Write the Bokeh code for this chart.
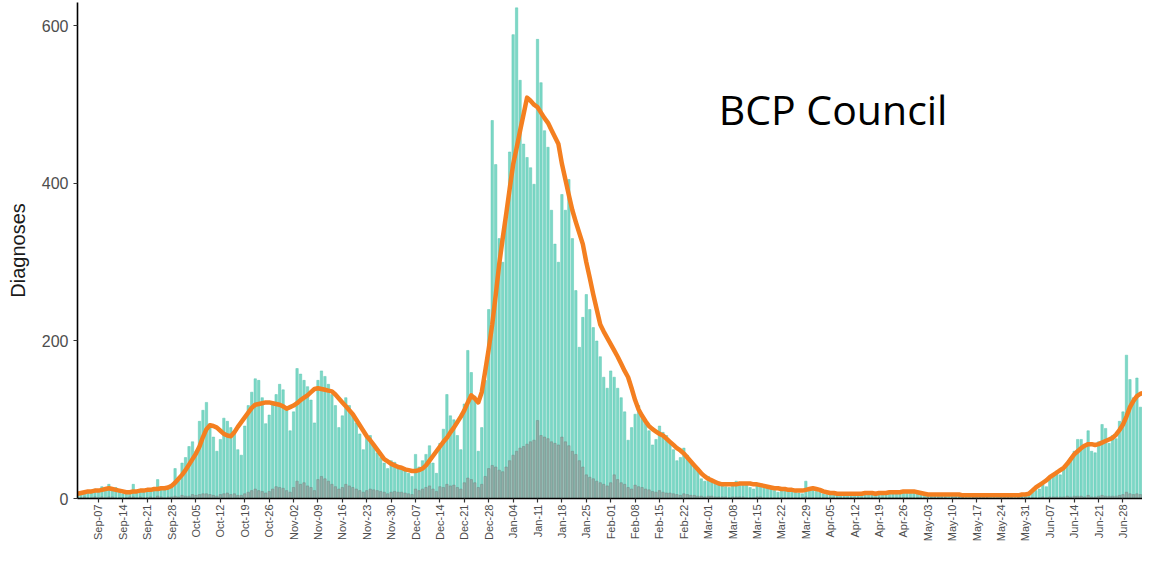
import math
import pandas as pd
from bokeh.plotting import figure
from bokeh.models import (Range1d, FixedTicker, DatetimeTickFormatter, Label,
                          ColumnDataSource)
from bokeh.embed import file_html
from bokeh.resources import INLINE

# ---------------- data ----------------
first_day = "2020-09-01"

# daily diagnoses (total bar height)
diagnoses = [
    4, 6, 9, 8, 7, 12, 9,
    15, 11, 18, 12, 14, 8, 6,
    7, 9, 18, 8, 10, 9, 11,
    12, 10, 24, 14, 11, 13, 18,
    38, 22, 45, 52, 66, 72, 60,
    98, 112, 122, 95, 78, 60, 75,
    102, 98, 90, 82, 62, 55, 92,
    118, 135, 152, 150, 128, 95, 106,
    120, 132, 145, 138, 112, 86, 110,
    165, 158, 150, 142, 125, 96, 150,
    162, 155, 145, 132, 118, 90, 105,
    128, 118, 108, 96, 82, 62, 78,
    80, 68, 58, 52, 45, 38, 48,
    46, 42, 38, 35, 32, 28, 56,
    40, 48, 56, 67, 45, 32, 70,
    88, 132, 105, 100, 80, 62, 120,
    188, 160, 130, 60, 90, 150, 240,
    480, 424, 330, 300, 360, 440, 589,
    623, 531, 450, 433, 420, 399, 583,
    528, 467, 446, 366, 323, 300, 386,
    366, 405, 330, 264, 192, 230, 259,
    240, 217, 200, 180, 154, 140, 162,
    154, 140, 128, 110, 74, 90, 107,
    118, 104, 95, 86, 68, 75, 92,
    84, 80, 70, 62, 48, 52, 64,
    55, 46, 42, 35, 25, 22, 28,
    24, 21, 19, 17, 15, 14, 19,
    22, 20, 18, 17, 14, 12, 16,
    16, 15, 14, 12, 10, 8, 12,
    12, 10, 9, 8, 7, 6, 22,
    12, 10, 9, 8, 6, 5, 6,
    7, 6, 5, 5, 4, 5, 6,
    6, 7, 6, 5, 5, 6, 7,
    8, 7, 8, 6, 6, 7, 9,
    10, 9, 8, 6, 5, 4, 5,
    6, 5, 4, 5, 4, 3, 5,
    5, 4, 4, 3, 3, 4, 5,
    4, 5, 4, 3, 3, 3, 4,
    5, 4, 4, 3, 4, 5, 6,
    6, 8, 10, 12, 20, 15, 26,
    31, 35, 30, 37, 45, 52, 60,
    75, 75, 68, 86, 60, 58, 72,
    94, 89, 70, 80, 76, 98, 110,
    182, 151, 128, 153, 116, 100, 94,
    120, 166,
]

# grey lower part of each bar
grey_part = [
    1, 1, 2, 1, 1, 2, 1,
    2, 1, 2, 2, 1, 1, 1,
    1, 2, 2, 1, 2, 1, 1,
    2, 1, 3, 2, 1, 2, 2,
    3, 2, 4, 3, 3, 5, 4,
    5, 6, 6, 5, 4, 3, 5,
    6, 7, 5, 6, 4, 4, 6,
    8, 10, 12, 10, 9, 7, 9,
    12, 15, 14, 13, 10, 8, 14,
    22, 18, 20, 16, 14, 10, 24,
    28, 25, 22, 18, 15, 12, 14,
    18, 16, 14, 12, 10, 8, 10,
    12, 11, 10, 9, 8, 6, 8,
    9, 8, 8, 7, 6, 5, 12,
    10, 12, 14, 16, 12, 9, 15,
    14, 18, 16, 17, 14, 12, 20,
    26, 24, 20, 14, 18, 28, 38,
    42, 40, 36, 34, 40, 48, 55,
    60, 64, 66, 69, 72, 74, 99,
    80, 78, 76, 72, 70, 68, 78,
    72, 67, 60, 56, 48, 40, 30,
    27, 25, 22, 20, 18, 16, 20,
    30, 24, 20, 18, 14, 12, 17,
    15, 14, 12, 11, 9, 8, 10,
    8, 7, 7, 6, 5, 4, 6,
    5, 4, 4, 3, 3, 2, 3,
    3, 2, 2, 2, 2, 1, 2,
    2, 2, 2, 1, 1, 1, 2,
    2, 1, 1, 1, 1, 1, 1,
    1, 1, 1, 1, 1, 1, 2,
    1, 1, 1, 1, 1, 1, 1,
    1, 1, 1, 1, 1, 1, 1,
    1, 1, 1, 1, 1, 1, 1,
    1, 1, 1, 1, 1, 1, 1,
    1, 1, 1, 1, 1, 1, 1,
    1, 1, 1, 1, 1, 0, 1,
    1, 1, 1, 0, 0, 1, 1,
    1, 1, 1, 0, 0, 0, 1,
    1, 1, 1, 0, 1, 1, 1,
    1, 1, 1, 1, 2, 1, 2,
    2, 2, 2, 2, 3, 2, 3,
    3, 3, 2, 4, 2, 2, 3,
    4, 3, 3, 3, 3, 4, 5,
    8, 6, 5, 6, 5, 4, 4,
    5, 6,
]

# 7-day average (orange line)
avg_7day = [
    6, 7, 8, 9, 9, 10, 10,
    11, 12, 13, 12, 11, 10, 9,
    8, 8, 9, 9, 10, 10, 11,
    11, 12, 12, 13, 13, 14, 16,
    20, 25, 30, 36, 43, 50, 57,
    66, 78, 88, 93, 92, 90, 86,
    82, 80, 79, 84, 91, 97, 103,
    109, 115, 119, 120, 121, 122, 122,
    121, 120, 119, 117, 114, 116, 118,
    121, 125, 128, 131, 135, 139, 140,
    139, 138, 137, 136, 132, 127, 122,
    117, 112, 107, 100, 93, 86, 79,
    74, 68, 62, 56, 50, 47, 44,
    42, 40, 39, 37, 36, 35, 35,
    36, 38, 42, 48, 54, 60, 66,
    72, 77, 84, 90, 97, 104, 112,
    122, 131, 127, 122, 135, 162, 190,
    221, 258, 297, 330, 361, 393, 424,
    445, 467, 488, 509, 505, 500, 497,
    490, 483, 477, 468, 459, 450, 425,
    405, 385, 366, 351, 337, 323, 300,
    280, 259, 240, 221, 212, 204, 196,
    188, 180, 171, 162, 154, 140, 125,
    113, 105, 98, 92, 88, 85, 82,
    80, 76, 72, 68, 64, 61, 57,
    52, 47, 42, 37, 32, 28, 25,
    23, 21, 19, 18, 18, 18, 18,
    18, 19, 19, 19, 19, 18, 18,
    17, 16, 15, 14, 13, 13, 12,
    12, 11, 11, 10, 10, 10, 11,
    12, 13, 12, 11, 9, 8, 7,
    7, 6, 6, 6, 6, 6, 6,
    6, 6, 7, 7, 7, 6, 7,
    7, 7, 8, 8, 8, 8, 9,
    9, 9, 9, 8, 7, 6, 5,
    5, 5, 5, 5, 5, 5, 5,
    5, 5, 4, 4, 4, 4, 4,
    4, 4, 4, 4, 4, 4, 4,
    4, 4, 4, 4, 4, 5, 5,
    6, 10, 14, 17, 20, 23, 27,
    30, 33, 36, 39, 44, 50, 56,
    60, 64, 67, 69, 69, 68, 69,
    71, 73, 75, 77, 81, 87, 94,
    104, 116, 124, 130, 133, 134, 132,
    128, 124,
]

y_ticks = [0, 200, 400, 600]
first_tick, last_tick = "2020-09-07", "2021-07-05"
annotation_text = "BCP Council"

# ---------------- figure ----------------
dates = pd.date_range(first_day, periods=len(diagnoses), freq="D")
src = ColumnDataSource(dict(date=dates, total=diagnoses, grey=grey_part, avg=avg_7day))

DAY_MS = 86400000.0
x_start = pd.Timestamp(first_day)
x_end = x_start + pd.Timedelta(days=305.6)
Y_TOP = 629.8

p = figure(width=1142, height=546, x_axis_type="datetime",
           output_backend="svg", toolbar_location=None,
           x_range=Range1d(x_start, x_end), y_range=Range1d(0, Y_TOP),
           min_border_left=77, min_border_right=0, min_border_top=2,
           min_border_bottom=48, background_fill_color="white",
           border_fill_color="white")
p.outline_line_color = None
p.grid.visible = False

p.vbar(x="date", top="total", bottom=0, width=0.68 * DAY_MS, source=src,
       fill_color="#7cd8c6", line_color="#5cc6b2", line_width=0.5)
p.vbar(x="date", top="grey", bottom=0, width=0.68 * DAY_MS, source=src,
       fill_color="#93aaa5", line_color="#6f8d87", line_width=0.5)
p.line(x="date", y="avg", source=src, line_color="#f47f20", line_width=4.5,
       line_join="round", line_cap="round")

# axes
tick_dates = pd.date_range(first_tick, last_tick, freq="7D")
p.xaxis.ticker = FixedTicker(ticks=[t.timestamp() * 1000 for t in tick_dates])
fmt = "%b-%d"
p.xaxis.formatter = DatetimeTickFormatter(
    microseconds=fmt, milliseconds=fmt, seconds=fmt, minsec=fmt, minutes=fmt,
    hourmin=fmt, hours=fmt, days=fmt, months=fmt, years=fmt,
    strip_leading_zeros=False)
p.xaxis.major_label_orientation = math.pi / 2
p.yaxis.ticker = FixedTicker(ticks=y_ticks)
p.yaxis.axis_label = "Diagnoses"

for ax in (p.xaxis[0], p.yaxis[0]):
    ax.axis_line_color = "black"
    ax.axis_line_width = 1.6
    ax.major_tick_in = 0
    ax.major_tick_out = 4
    ax.major_tick_line_color = "#333333"
    ax.major_tick_line_width = 1.2
    ax.minor_tick_line_color = None
    ax.major_label_text_font = "Liberation Sans"
    ax.major_label_text_color = "#4d4d4d"

p.xaxis.major_label_standoff = 2
p.yaxis.major_label_standoff = 5
p.xaxis.major_label_text_font_size = "11px"
p.yaxis.major_label_text_font_size = "16px"
p.yaxis.axis_label_text_font = "Liberation Sans"
p.yaxis.axis_label_text_font_size = "20px"
p.yaxis.axis_label_text_font_style = "normal"
p.yaxis.axis_label_text_color = "#1a1a1a"
p.yaxis.axis_label_standoff = 10

p.add_layout(Label(x=pd.Timestamp("2021-03-04").timestamp() * 1000, y=495,
                   text=annotation_text, text_font="Open Sans",
                   text_font_size="41px", text_color="black",
                   text_baseline="alphabetic", text_align="left"))

open("out.html", "w").write(file_html(p, INLINE))
